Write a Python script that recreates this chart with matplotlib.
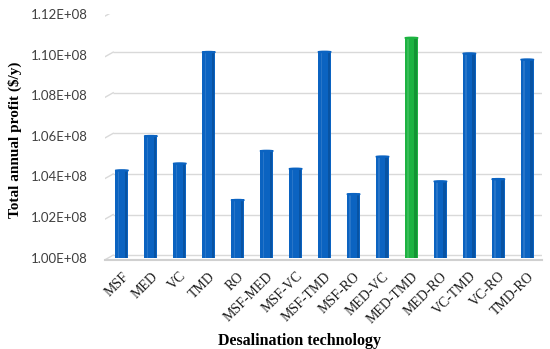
import matplotlib
matplotlib.use("Agg")
import matplotlib.pyplot as plt
import numpy as np
from matplotlib.ticker import FuncFormatter

categories = ["MSF", "MED", "VC", "TMD", "RO", "MSF-MED", "MSF-VC", "MSF-TMD",
              "MSF-RO", "MED-VC", "MED-TMD", "MED-RO", "VC-TMD", "VC-RO", "TMD-RO"]
profit = [1.0429e8, 1.0598e8, 1.0463e8, 1.1012e8, 1.0283e8, 1.0525e8, 1.0437e8, 1.1013e8,
          1.0312e8, 1.0497e8, 1.1082e8, 1.0375e8, 1.1005e8, 1.0386e8, 1.0975e8]
highlight = "MED-TMD"
yticks = [1.00e8, 1.02e8, 1.04e8, 1.06e8, 1.08e8, 1.10e8, 1.12e8]

blue = "#0B63C1"
blue_dark = "#06468C"
green = "#1DB341"
green_dark = "#0E7A2A"
grid_c = "#D9D9D9"

fig = plt.figure(figsize=(5.5, 3.49), dpi=100)
ax = fig.add_axes([0.19, 0.255, 0.795, 0.705])

x = np.arange(len(categories))
vals = np.array(profit)
base = 1.00e8
colors = [green if c == highlight else blue for c in categories]
darks = [green_dark if c == highlight else blue_dark for c in categories]

xmin, xmax = -0.6, len(categories) - 0.5
xwall = -0.3
# perspective-like gridlines
for v in yticks:
    ax.plot([xwall, xmax], [v + 0.0012e8, v + 0.0012e8], color=grid_c, lw=1.0, zorder=0,
            solid_capstyle="butt")
    ax.plot([xmin, xwall], [v - 0.0012e8, v + 0.0012e8], color=grid_c, lw=1.0, zorder=0)

w = 0.45
ax.bar(x, vals - base, bottom=base, width=w, color=colors, zorder=3, linewidth=0)
ax.bar(x + w * 0.32, vals - base, bottom=base, width=w * 0.18, color=darks, zorder=4,
       linewidth=0, alpha=0.55)
ax.bar(x - w * 0.25, vals - base, bottom=base, width=w * 0.12, color="white", zorder=4,
       linewidth=0, alpha=0.12)
for xi, v, c in zip(x, vals, colors):
    ax.add_patch(matplotlib.patches.Ellipse((xi, v), w, 0.0006e8, facecolor=c, edgecolor=c,
                                            zorder=5))

ax.set_xlim(xmin, xmax)
ax.set_ylim(1.00e8 - 0.0012e8, 1.12e8)
ax.set_yticks(yticks)
ax.yaxis.set_major_formatter(FuncFormatter(lambda v, p: f"{v/1e8:.2f}E+08"))
for s in ["top", "right", "left"]:
    ax.spines[s].set_visible(False)
ax.spines["bottom"].set_color("#D0D0D0")
ax.spines["bottom"].set_linewidth(1.5)
ax.tick_params(axis="both", length=0)
ax.tick_params(axis="y", labelsize=9.5, labelcolor="#404040", pad=12)
for lab in ax.get_yticklabels():
    lab.set_fontfamily("Lato")

ax.set_xticks(x)
ax.set_xticklabels(categories, rotation=45, ha="right", rotation_mode="anchor",
                   fontsize=10, fontfamily="Liberation Serif", color="#1a1a1a")
ax.tick_params(axis="x", pad=7)

fig.text(0.027, 0.6, "Total annual profit ($/y)", rotation=90, ha="center", va="center",
         fontsize=11, fontweight="bold", fontfamily="Liberation Serif")
fig.text(0.545, 0.022, "Desalination technology", ha="center", va="center",
         fontsize=11.5, fontweight="bold", fontfamily="Liberation Serif")

fig.savefig("out.png", dpi=100)
